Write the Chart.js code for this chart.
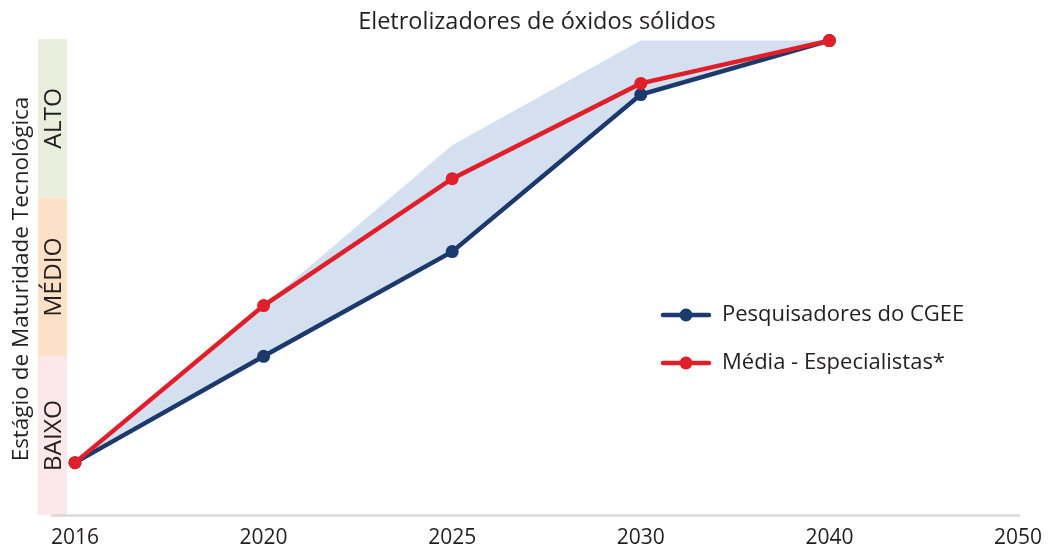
<!DOCTYPE html>
<html><head><meta charset="utf-8">
<script src="https://cdn.jsdelivr.net/npm/chart.js@4.4.1/dist/chart.umd.min.js"></script>
<style>html,body{margin:0;padding:0;background:#fff}#wrap{width:1048px;height:552px}</style>
</head><body><div id="wrap"><canvas id="c"></canvas></div>
<script>
// Horizonte temporal e estágios de maturidade (0–1 baixo, 1–2 médio, 2–3 alto)
const anos = ['2016', '2020', '2025', '2030', '2040', '2050'];
const pesquisadores = [0.33, 1.0, 1.66, 2.65, 2.99, null];
const especialistas = [0.33, 1.32, 2.12, 2.72, 2.99, null];
const faixaSuperior = [0.33, 1.32, 2.33, 2.99, 2.99, null];
const niveis = ['BAIXO', 'MÉDIO', 'ALTO'];
const coresNiveis = ['#fce8ea', '#fde0c8', '#e9eedd'];
const titulo = 'Eletrolizadores de óxidos sólidos';

const AZUL = '#1b3a6b';
const VERMELHO = '#e01f2a';
const TEXTO = '#231f20';
const FONTE = '"Open Sans", "Noto Sans", sans-serif';

const decoracao = {
  id: 'decoracao',
  beforeDatasetsDraw(chart) {
    const { ctx, chartArea: a, scales: { y } } = chart;
    ctx.save();
    // título
    ctx.fillStyle = TEXTO;
    ctx.font = '23.5px ' + FONTE;
    ctx.textAlign = 'center';
    ctx.textBaseline = 'alphabetic';
    ctx.fillText(titulo, 537, 29);
    // faixas de maturidade à esquerda
    for (let i = 0; i < niveis.length; i++) {
      const y0 = y.getPixelForValue(i), y1 = y.getPixelForValue(i + 1);
      ctx.fillStyle = coresNiveis[i];
      ctx.fillRect(a.left - 37, y1, 29, y0 - y1);
      ctx.save();
      ctx.translate(a.left - 22, (y0 + y1) / 2);
      ctx.rotate(-Math.PI / 2);
      ctx.fillStyle = TEXTO;
      ctx.font = '24.5px ' + FONTE;
      ctx.textAlign = 'center';
      ctx.textBaseline = 'middle';
      ctx.fillText(niveis[i], 0, 1);
      ctx.restore();
    }
    // título do eixo vertical
    ctx.save();
    ctx.translate(22, (a.top + a.bottom) / 2 + 2);
    ctx.rotate(-Math.PI / 2);
    ctx.fillStyle = TEXTO;
    ctx.font = '22.5px ' + FONTE;
    ctx.textAlign = 'center';
    ctx.textBaseline = 'middle';
    ctx.fillText('Estágio de Maturidade Tecnológica', 0, 0);
    ctx.restore();
    // linha do eixo horizontal
    ctx.strokeStyle = '#d9d9d9';
    ctx.lineWidth = 2.5;
    ctx.beginPath();
    ctx.moveTo(a.left - 24, a.bottom + 0.5);
    ctx.lineTo(a.right + 2, a.bottom + 0.5);
    ctx.stroke();
    ctx.restore();
  },
  afterDraw(chart) {
    const { ctx } = chart;
    const itens = [
      { texto: 'Pesquisadores do CGEE', cor: AZUL },
      { texto: 'Média - Especialistas*', cor: VERMELHO }
    ];
    ctx.save();
    itens.forEach((it, i) => {
      const cy = 315 + i * 48;
      ctx.strokeStyle = it.cor;
      ctx.lineWidth = 4.5;
      ctx.lineCap = 'round';
      ctx.beginPath();
      ctx.moveTo(663, cy);
      ctx.lineTo(709, cy);
      ctx.stroke();
      ctx.fillStyle = it.cor;
      ctx.beginPath();
      ctx.arc(686, cy, 6.5, 0, Math.PI * 2);
      ctx.fill();
      ctx.fillStyle = TEXTO;
      ctx.font = '22px ' + FONTE;
      ctx.textAlign = 'left';
      ctx.textBaseline = 'middle';
      ctx.fillText(it.texto, 722, cy);
    });
    ctx.restore();
  }
};

new Chart(document.getElementById('c'), {
  type: 'line',
  data: {
    labels: anos,
    datasets: [
      {
        label: 'Faixa',
        data: faixaSuperior,
        borderWidth: 0,
        borderColor: 'rgba(0,0,0,0)',
        pointRadius: 0,
        backgroundColor: '#d4dff0',
        fill: 1,
        order: 3,
        tension: 0,
        clip: false
      },
      {
        label: 'Pesquisadores do CGEE',
        data: pesquisadores,
        borderColor: AZUL,
        backgroundColor: AZUL,
        borderWidth: 4.5,
        pointRadius: 6.5,
        pointBorderWidth: 0,
        fill: false,
        order: 2,
        tension: 0,
        clip: false
      },
      {
        label: 'Média - Especialistas*',
        data: especialistas,
        borderColor: VERMELHO,
        backgroundColor: VERMELHO,
        borderWidth: 4.5,
        pointRadius: 6.5,
        pointBorderWidth: 0,
        fill: false,
        order: 1,
        tension: 0,
        clip: false
      }
    ]
  },
  options: {
    responsive: true,
    maintainAspectRatio: false,
    animation: false,
    events: [],
    layout: { padding: { left: 75, right: 30, top: 39, bottom: 0 } },
    plugins: {
      legend: { display: false },
      tooltip: { enabled: false },
      title: { display: false }
    },
    scales: {
      x: {
        type: 'category',
        offset: false,
        grid: { display: false, drawTicks: false },
        border: { display: false },
        afterFit(scale) {
          scale.height = 37;
          scale.paddingLeft = 0;
          scale.paddingRight = 0;
        },
        ticks: {
          color: TEXTO,
          font: { family: FONTE, size: 21 },
          padding: 10,
          maxRotation: 0,
          autoSkip: false
        }
      },
      y: {
        display: false,
        min: 0,
        max: 3
      }
    }
  },
  plugins: [decoracao]
});
</script>
</body></html>
